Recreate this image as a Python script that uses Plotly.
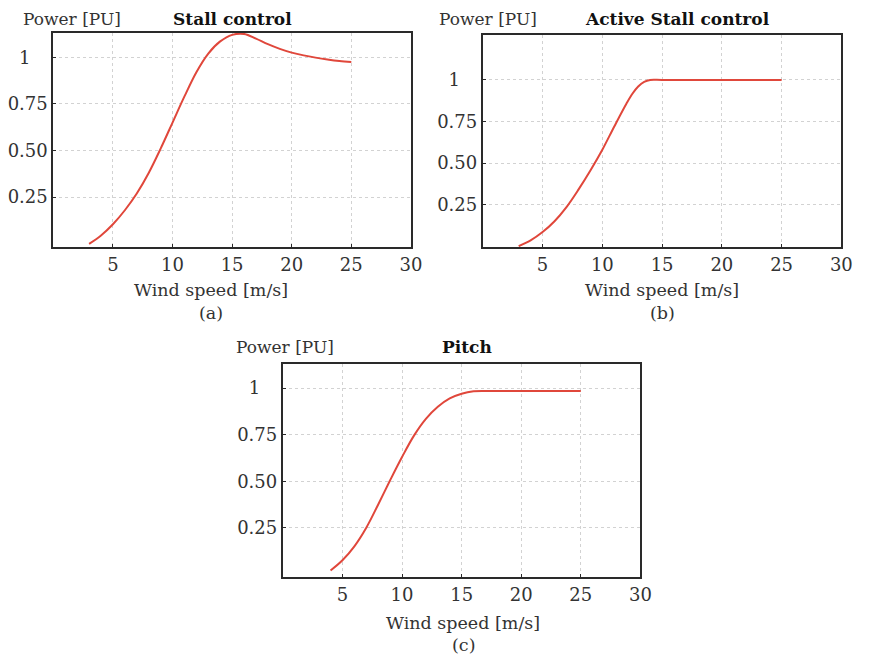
import plotly.graph_objects as go

# ---------------- data ----------------
stall_wind = [3, 4, 5, 6, 7, 8, 9, 10, 11, 12, 13, 14, 15, 16, 17, 18, 19, 20, 21, 22, 23, 24, 25]
stall_power = [0.0, 0.045, 0.105, 0.18, 0.27, 0.38, 0.51, 0.65, 0.79, 0.92, 1.02, 1.085, 1.12, 1.125,
               1.10, 1.07, 1.045, 1.025, 1.01, 0.998, 0.988, 0.98, 0.975]

active_wind = [3, 4, 5, 6, 7, 8, 9, 10, 11, 12, 12.5, 13, 13.5, 14, 15, 20, 25]
active_power = [0.0, 0.035, 0.085, 0.15, 0.235, 0.34, 0.455, 0.58, 0.72, 0.855, 0.915, 0.96, 0.988,
                1.0, 1.0, 1.0, 1.0]

pitch_wind = [4, 5, 6, 7, 8, 9, 10, 11, 12, 13, 14, 15, 16, 17, 20, 25]
pitch_power = [0.02, 0.075, 0.15, 0.25, 0.375, 0.505, 0.63, 0.745, 0.835, 0.90, 0.945, 0.97, 0.983,
               0.985, 0.985, 0.985]

x_tick_vals = [5, 10, 15, 20, 25, 30]
x_tick_text = ["5", "10", "15", "20", "25", "30"]
y_tick_vals = [0.25, 0.5, 0.75, 1]
y_tick_text = ["0.25", "0.50", "0.75", "1\u00a0\u00a0\u00a0"]

titles = ["Stall control", "Active Stall control", "Pitch"]
captions = ["(a)", "(b)", "(c)"]
y_label = "Power [PU]"
x_label = "Wind speed [m/s]"

# ---------------- layout helpers ----------------
OFF = 8  # page body margin
W, H = 877 - OFF, 659 - OFF
def px(x):
    return (x - OFF) / W
def py(y):
    return 1 - (y - OFF) / H

FONT = "DejaVu Serif"
LINE_COLOR = "#e0473b"

fig = go.Figure()
series = [(stall_wind, stall_power), (active_wind, active_power), (pitch_wind, pitch_power)]
for i, (xs, ys) in enumerate(series):
    sfx = "" if i == 0 else str(i + 1)
    fig.add_trace(go.Scatter(x=xs, y=ys, mode="lines",
                             line=dict(color=LINE_COLOR, width=2, shape="spline", smoothing=1.0),
                             xaxis="x" + sfx, yaxis="y" + sfx, showlegend=False, hoverinfo="skip"))

# panel boxes in reference pixels: (left, right, top, bottom)
boxes = [(52, 415, 33, 247), (488, 852, 35, 247), (285, 648, 364, 577)]
y_ranges = [[-0.017, 1.13], [-0.005, 1.27], [-0.015, 1.13]]

axis_common = dict(showline=True, linewidth=2, linecolor="#2a2a2a", mirror=True,
                   showgrid=True, gridcolor="#d2d2d2", griddash="dot", gridwidth=1,
                   zeroline=False, ticks="inside", ticklen=3, tickcolor="#2a2a2a",
                   tickfont=dict(family=FONT, size=18, color="#333333"))

layout = dict(width=W, height=H, margin=dict(l=0, r=0, t=0, b=0),
              paper_bgcolor="white", plot_bgcolor="white", showlegend=False)

for i, (l, r, t, b) in enumerate(boxes):
    sfx = "" if i == 0 else str(i + 1)
    layout["xaxis" + sfx] = dict(axis_common, domain=[px(l), px(r)], range=[0, 30],
                                 tickvals=x_tick_vals, ticktext=x_tick_text,
                                 anchor="y" + sfx)
    layout["yaxis" + sfx] = dict(axis_common, domain=[py(b), py(t)], range=y_ranges[i],
                                 tickvals=y_tick_vals, ticktext=y_tick_text,
                                 anchor="x" + sfx)

fig.update_layout(**layout)

# text annotations (reference pixel positions of text centres)
ylab_pos = [(71, 19), (493, 19), (287, 347)]
title_pos = [(234, 19), (686, 19), (472, 347)]
xlab_pos = [(212, 290), (670, 290), (468, 623)]
cap_pos = [(212, 313), (670, 313), (468, 645)]

ann = []
for i in range(3):
    ann.append(dict(text=y_label, x=px(ylab_pos[i][0]), y=py(ylab_pos[i][1]), xref="paper", yref="paper",
                    showarrow=False, xanchor="center", yanchor="middle",
                    font=dict(family=FONT, size=17, color="#333333")))
    ann.append(dict(text="<b>" + titles[i] + "</b>", x=px(title_pos[i][0]), y=py(title_pos[i][1]),
                    xref="paper", yref="paper", showarrow=False, xanchor="center", yanchor="middle",
                    font=dict(family=FONT, size=17, color="#111111")))
    ann.append(dict(text=x_label, x=px(xlab_pos[i][0]), y=py(xlab_pos[i][1]), xref="paper", yref="paper",
                    showarrow=False, xanchor="center", yanchor="middle",
                    font=dict(family=FONT, size=17.5, color="#333333")))
    ann.append(dict(text=captions[i], x=px(cap_pos[i][0]), y=py(cap_pos[i][1]), xref="paper", yref="paper",
                    showarrow=False, xanchor="center", yanchor="middle",
                    font=dict(family=FONT, size=17.5, color="#333333")))
fig.update_layout(annotations=ann)

fig.write_html("out.html")
